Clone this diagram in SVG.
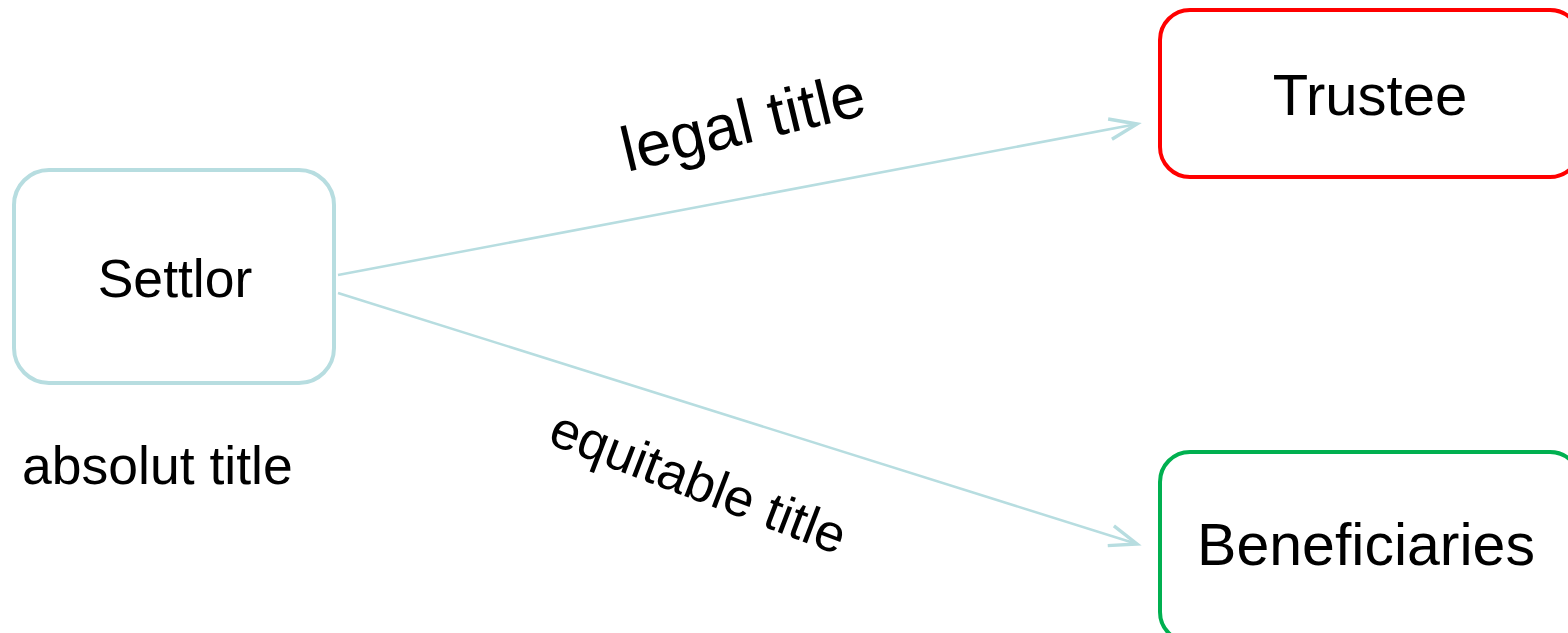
<svg xmlns="http://www.w3.org/2000/svg" width="1568" height="633" viewBox="0 0 1568 633">
<style>
.box{fill:#ffffff;stroke-width:4}
.lbl{font-family:"Liberation Sans",Arial,sans-serif;fill:#000000}
.conn{stroke:#b7dde0;stroke-width:2.5;fill:none}
</style>
<defs>
<marker id="arr" markerUnits="userSpaceOnUse" markerWidth="40" markerHeight="40" viewBox="-30 -15 35 30" refX="0" refY="0" orient="auto" overflow="visible">
<path d="M-24,-9 L0,0 L-24,9" fill="none" stroke="#b7dde0" stroke-width="3" stroke-linejoin="miter"/>
</marker>
</defs>
<rect width="1568" height="633" fill="#ffffff"/>
<g id="connectors">
<line class="conn" x1="338" y1="275" x2="1137" y2="124" marker-end="url(#arr)"/>
<line class="conn" x1="338" y1="293" x2="1137" y2="544" marker-end="url(#arr)"/>
<text class="lbl" font-size="63" text-anchor="middle" transform="translate(748,143) rotate(-13.5)">legal title</text>
<text class="lbl" font-size="53" text-anchor="middle" transform="translate(692,499) rotate(21)">equitable title</text>
</g>
<g id="settlor">
<rect class="box" x="14" y="170" width="320" height="213" rx="35" stroke="#b7dde0"/>
<text class="lbl" x="175" y="297" font-size="53.5" text-anchor="middle">Settlor</text>
</g>
<g id="settlor-note">
<text class="lbl" x="22" y="484" font-size="53.5">absolut title</text>
</g>
<g id="trustee">
<rect class="box" x="1160" y="10" width="420" height="167" rx="30" stroke="#ff0000"/>
<text class="lbl" x="1370" y="115" font-size="58" text-anchor="middle">Trustee</text>
</g>
<g id="beneficiaries">
<rect class="box" x="1160" y="452" width="420" height="190" rx="30" stroke="#00b050"/>
<text class="lbl" x="1366" y="565" font-size="59" text-anchor="middle">Beneficiaries</text>
</g>
</svg>
